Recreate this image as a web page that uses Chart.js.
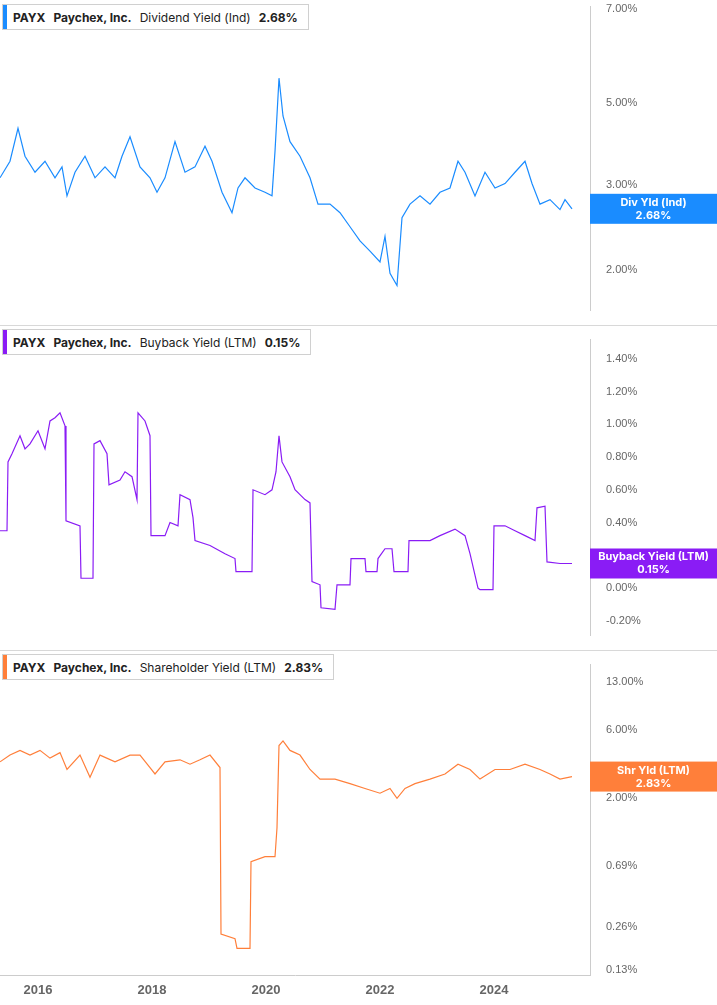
<!DOCTYPE html>
<html><head><meta charset="utf-8">
<script src="https://cdn.jsdelivr.net/npm/chart.js@4"></script>
<style>
body{margin:0;background:#fff;font-family:Inter,"Open Sans",sans-serif;overflow:hidden}
.panel{position:absolute;left:0;width:717px;}
.leg{position:absolute;left:2px;top:4px;height:24px;border:1px solid #d0d0d0;background:#fff;font-size:12px;color:#222;display:flex;align-items:center;padding:0 10px 0 10px;white-space:nowrap}
.leg i{position:absolute;left:0;top:0;bottom:0;width:4px}
.leg b{font-weight:700;margin-right:8px}
.leg span{margin-right:8px}
.sep{position:absolute;left:0;width:717px;height:1px;background:#d8d8d8}
</style></head><body>
<div class="panel" style="top:-8px;height:333px"><canvas id="c1"></canvas></div>
<div class="panel" style="top:325px;height:325px"><canvas id="c2"></canvas></div>
<div class="panel" style="top:650px;height:355px"><canvas id="c3"></canvas></div>
<div class="sep" style="top:325px"></div><div class="sep" style="top:650px"></div>
<div class="leg" style="top:4px"><i style="background:#1a8cff"></i><b>PAYX</b><b>Paychex, Inc.</b><span>Dividend Yield (Ind)</span><b style="margin:0">2.68%</b></div>
<div class="leg" style="top:329px"><i style="background:#8a1cf5"></i><b>PAYX</b><b>Paychex, Inc.</b><span>Buyback Yield (LTM)</span><b style="margin:0">0.15%</b></div>
<div class="leg" style="top:654px"><i style="background:#ff7f3a"></i><b>PAYX</b><b>Paychex, Inc.</b><span>Shareholder Yield (LTM)</span><b style="margin:0">2.83%</b></div>
<script>
'use strict';
// x position in reference pixels -> date in decimal years
const X0 = 2015.333, PXY = 57;
const xYears = [2016, 2018, 2020, 2022, 2024];

// ── Dividend yield (%) ─────────────────
const divX = [0,10,18,25,35,45,55,62,67,75,85,95,105,115,122,130,140,150,157,165,175,185,195,205,212,222,232,238,245,255,265,272,275,279,283,290,300,310,318,330,340,350,360,370,380,385,390,397,402,410,420,430,440,450,458,465,475,485,495,505,515,525,532,540,550,560,565,572];
const divY = [3.14,3.48,4.27,3.59,3.25,3.48,3.14,3.36,2.85,3.25,3.59,3.14,3.36,3.14,3.59,4.05,3.36,3.14,2.90,3.14,3.93,3.25,3.36,3.82,3.48,2.90,2.63,2.96,3.14,2.96,2.90,2.85,3.70,5.46,4.61,3.93,3.59,3.14,2.74,2.74,2.63,2.46,2.30,2.19,2.08,2.35,1.97,1.86,2.57,2.74,2.85,2.74,2.90,2.96,3.48,3.25,2.85,3.25,2.96,3.03,3.25,3.48,3.03,2.74,2.80,2.67,2.80,2.68];
const divTicks = [[2,282],[3,191],[5,103],[7,2]];

// ── Buyback yield (%) ──────────────────
const bbX = [0,7,8,12,20,25,30,38,45,50,55,60,65,66,80,81,93,94,100,107,109,120,125,132,137,138,145,150,151,165,170,178,180,190,193,195,210,225,235,236,252,253,265,272,276,279,282,290,295,305,310,312,320,321,335,337,350,351,365,366,377,378,385,392,394,408,409,420,430,440,455,465,470,478,480,493,494,505,515,525,535,537,545,547,560,572];
const bbY = [0.35,0.35,0.77,0.82,0.93,0.85,0.88,0.96,0.85,1.02,1.04,1.07,0.99,0.41,0.38,0.06,0.06,0.88,0.90,0.82,0.63,0.66,0.71,0.68,0.54,1.07,1.02,0.93,0.32,0.32,0.40,0.38,0.57,0.54,0.43,0.29,0.26,0.21,0.18,0.10,0.10,0.60,0.57,0.60,0.71,0.93,0.77,0.68,0.60,0.54,0.52,0.04,0.02,-0.12,-0.13,0.02,0.02,0.18,0.18,0.10,0.10,0.18,0.24,0.24,0.10,0.10,0.29,0.29,0.29,0.32,0.36,0.32,0.21,0.0,-0.01,-0.01,0.38,0.38,0.35,0.32,0.29,0.49,0.50,0.16,0.15,0.15];
const bbTicks = [-0.2,0,0.2,0.4,0.6,0.8,1.0,1.2,1.4];

// ── Shareholder yield (%) ──────────────
const shX = [0,10,20,30,40,50,60,67,80,90,100,115,130,140,150,155,165,180,190,200,210,220,221,235,237,250,251,265,275,277,279,283,290,300,310,320,335,350,365,380,390,397,405,415,430,445,458,470,480,495,510,525,540,550,560,572];
const shY = [3.58,3.99,4.30,3.99,4.30,3.80,4.15,3.17,3.99,2.80,3.99,3.58,3.99,3.99,3.27,2.95,3.58,3.70,3.45,3.70,3.99,3.27,0.233,0.216,0.185,0.185,0.74,0.80,0.80,1.26,4.65,5.0,4.30,3.99,3.17,2.72,2.72,2.53,2.34,2.17,2.34,2.0,2.34,2.53,2.72,2.95,3.45,3.17,2.72,3.17,3.17,3.45,3.17,2.95,2.72,2.83];
const shTicks = [[0.13,970],[0.26,925],[0.69,861],[2,790],[6,718],[13,668]];

// piecewise log interpolation between tick anchors -> reference pixel
const logPix = (anch, v) => {
  const L = Math.log10(v);
  let i = 0;
  const a = anch.slice().sort((p, q) => p[0] - q[0]);
  while (i < a.length - 2 && L > Math.log10(a[i + 1][0])) i++;
  const l0 = Math.log10(a[i][0]), l1 = Math.log10(a[i + 1][0]);
  return a[i][1] + (L - l0) / (l1 - l0) * (a[i + 1][1] - a[i][1]);
};

function panel(id, color, xs, ys, toPix, top, ticks, badge, showX, zeroLine) {
  const u = p => -(p - top);
  const pts = xs.map((x, i) => ({ x: X0 + x / PXY, y: u(toPix(ys[i])) }));
  const tickMap = ticks.map(t => ({ value: u(t[1]), label: t[0].toFixed(2) + '%' }));
  new Chart(document.getElementById(id), {
    type: 'line',
    data: { datasets: [{ data: pts, borderColor: color, borderWidth: 1.2, pointRadius: 0, tension: 0 }] },
    options: {
      responsive: true, maintainAspectRatio: false, animation: false,
      layout: { padding: 0 },
      plugins: { legend: { display: false }, tooltip: { enabled: false } },
      scales: {
        x: {
          type: 'linear', min: X0, max: X0 + 590 / PXY, display: showX,
          grid: { display: false, drawTicks: false }, border: { color: '#ccc' },
          afterBuildTicks: s => { s.ticks = xYears.map(v => ({ value: v })); },
          afterFit: s => { if (showX) s.height = 30; },
          ticks: { color: '#666', font: { size: 13, weight: 'bold' }, padding: 8, callback: v => String(v) },
        },
        y: {
          position: 'right', min: -325, max: 0,
          grid: { display: false }, border: { color: '#ccc' },
          afterBuildTicks: s => { s.ticks = tickMap.map(t => ({ value: t.value })); },
          afterFit: s => { s.width = 127; },
          ticks: { color: '#666', font: { size: 11 }, padding: 8,
            callback: v => (tickMap.find(t => Math.abs(t.value - v) < 0.01) || {}).label },
        },
      },
    },
    plugins: [{
      id: 'extra',
      afterDraw(c) {
        const ctx = c.ctx, a = c.chartArea, ys = c.scales.y;
        if (zeroLine != null) {
          const y0 = ys.getPixelForValue(u(zeroLine));
          ctx.save(); ctx.strokeStyle = '#555'; ctx.setLineDash([1.5, 3]);
          ctx.beginPath(); ctx.moveTo(a.left, y0); ctx.lineTo(a.right, y0); ctx.stroke(); ctx.restore();
        }
        const yb = ys.getPixelForValue(pts[pts.length - 1].y);
        ctx.save();
        ctx.fillStyle = color; ctx.fillRect(a.right, yb - 15, c.width - a.right, 30);
        ctx.fillStyle = '#fff'; ctx.font = 'bold 11px Inter, sans-serif'; ctx.textAlign = 'center';
        const cx = (a.right + c.width) / 2;
        ctx.fillText(badge[0], cx, yb - 3); ctx.fillText(badge[1], cx, yb + 10);
        ctx.restore();
      },
    }],
  });
}

panel('c1', '#1a8cff', divX, divY, v => logPix(divTicks, v), 0, divTicks, ['Div Yld (Ind)', '2.68%'], false, null);
panel('c2', '#8a1cf5', bbX, bbY, v => 598 - v * 180, 325,
  bbTicks.map(t => [t, 598 - t * 180]), ['Buyback Yield (LTM)', '0.15%'], false, 0);
panel('c3', '#ff7f3a', shX, shY, v => logPix(shTicks, v), 650, shTicks, ['Shr Yld (LTM)', '2.83%'], true, null);
</script>
</body></html>
